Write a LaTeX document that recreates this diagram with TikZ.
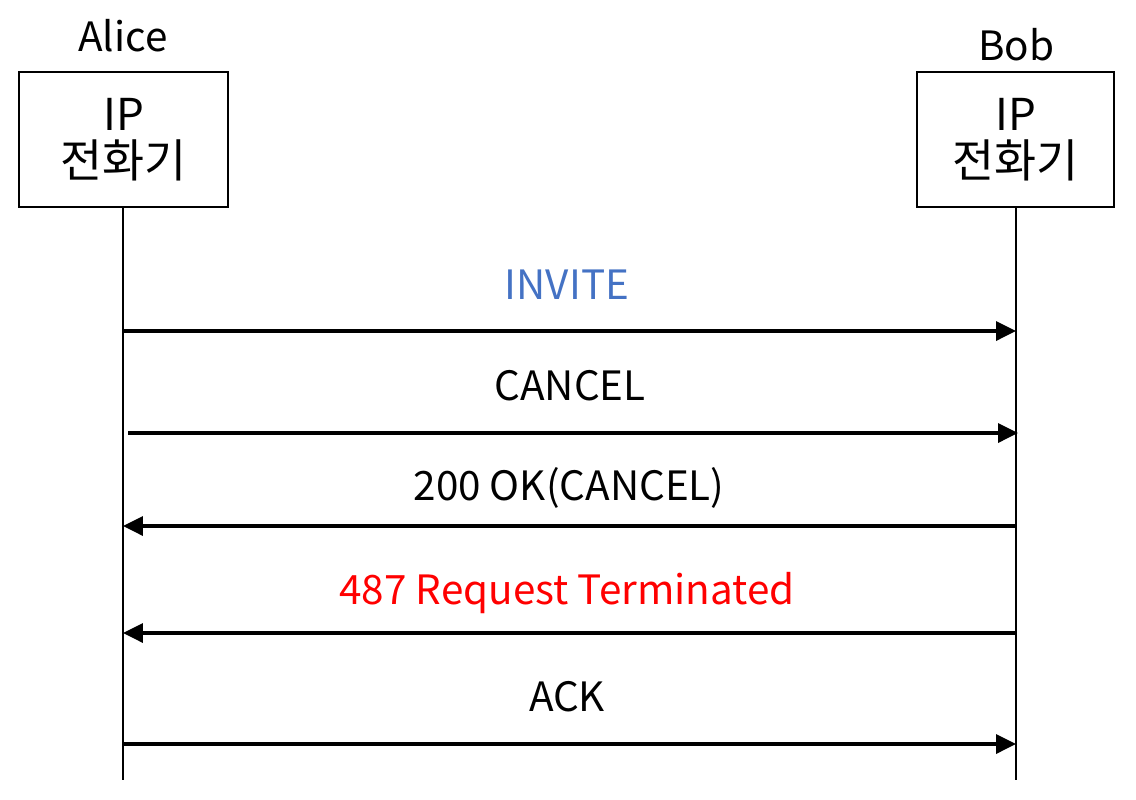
\documentclass[tikz,border=0pt]{standalone}
\usepackage{fontspec}
\setmainfont{Noto Sans CJK KR}
\usetikzlibrary{arrows.meta}

\definecolor{inviteblue}{HTML}{4472C4}
\tikzset{
  phone/.style={draw, line width=1.2pt, minimum height=2.7cm, align=center, font=\fontsize{25}{27}\selectfont},
  who/.style={font=\fontsize{23}{28}\selectfont},
  lifeline/.style={line width=0.8pt},
  msg/.style={line width=2pt, -{Triangle[length=0.4cm, width=0.38cm]}},
  msglabel/.style={font=\fontsize{23}{28}\selectfont}
}

\begin{document}
\begin{tikzpicture}[x=0.02cm, y=-0.02cm]
    \useasboundingbox (0,0) rectangle (1136,799);
    % participants
    \node[phone, minimum width=4.18cm] (alice) at (123.5,139.5) {IP\\{\fontsize{26}{27}\selectfont 전화기}};
    \node[phone, minimum width=3.94cm] (bob) at (1015.5,139.5) {IP\\{\fontsize{26}{27}\selectfont 전화기}};
    \node[who] (alicename) at (123,36) {Alice};
    \node[who] (bobname) at (1016,45) {Bob};
    \coordinate (aliceend) at (123,780);
    \coordinate (bobend) at (1016,780);
    \draw[lifeline] (alice.south -| aliceend) -- (aliceend);
    \draw[lifeline] (bob.south -| bobend) -- (bobend);
    % message rows
    \coordinate (a1) at (123,331);   \coordinate (b1) at (1016,331);
    \coordinate (a2) at (128,433);   \coordinate (b2) at (1018,433);
    \coordinate (a3) at (123,526);   \coordinate (b3) at (1016,526);
    \coordinate (a4) at (123,633);   \coordinate (b4) at (1016,633);
    \coordinate (a5) at (123,744);   \coordinate (b5) at (1016,744);
    \draw[msg] (a1) -- (b1);
    \draw[msg] (a2) -- (b2);
    \draw[msg] (b3) -- (a3);
    \draw[msg] (b4) -- (a4);
    \draw[msg] (a5) -- (b5);
    \node[msglabel, text=inviteblue] (invite) at (567,285) {INVITE};
    \node[msglabel] (cancel) at (570,386) {CANCEL};
    \node[msglabel] (okcancel) at (569,488) {200 OK(CANCEL)};
    \node[msglabel, text=red] (terminated) at (567,593) {487 Request Terminated};
    \node[msglabel] (ack) at (567,697) {ACK};
\end{tikzpicture}
\end{document}
